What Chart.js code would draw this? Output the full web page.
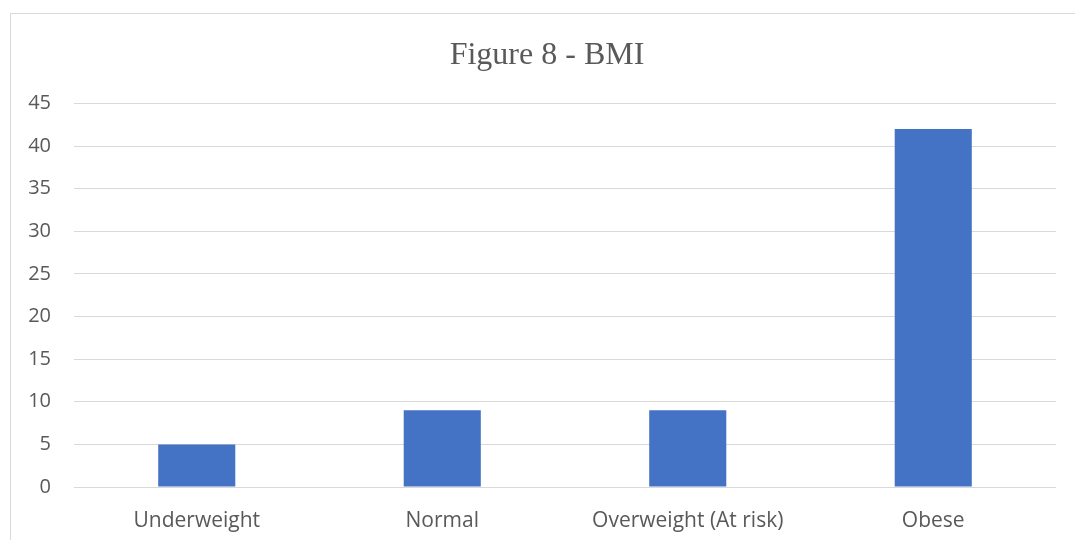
<!DOCTYPE html>
<html lang="en">
<head>
    <meta charset="UTF-8">
    <title>Figure 8 - BMI</title>
    <script src="https://cdn.jsdelivr.net/npm/chart.js"></script>
    <style>
        body {
            margin: 0;
            padding: 0;
            background-color: #ffffff;
            overflow: hidden;
        }

        .frame {
            position: absolute;
            left: 10px;
            top: 13px;
            width: 1100px;
            height: 560px;
            border: 1px solid #d9d9d9;
        }

        .box {
            position: absolute;
            left: 0;
            top: 0;
            width: 1072px;
            height: 526px;
        }
    </style>
</head>
<body>
    <div class="frame">
        <div class="box">
            <canvas id="bmiChart"></canvas>
        </div>
    </div>

    <script>
        var categories = ['Underweight', 'Normal', 'Overweight (At risk)', 'Obese'];
        var counts = [5, 9, 9, 42];
        var yTicks = [0, 5, 10, 15, 20, 25, 30, 35, 40, 45];

        var ctx = document.getElementById('bmiChart').getContext('2d');
        var bmiChart = new Chart(ctx, {
            type: 'bar',
            data: {
                labels: categories,
                datasets: [{
                    label: 'BMI',
                    data: counts,
                    backgroundColor: '#4472c4',
                    borderWidth: 0,
                    categoryPercentage: 1,
                    barPercentage: 0.314
                }]
            },
            options: {
                responsive: true,
                maintainAspectRatio: false,
                animation: false,
                layout: {
                    padding: { left: 0, right: 0, top: 22, bottom: 0 }
                },
                plugins: {
                    legend: { display: false },
                    tooltip: { enabled: false },
                    title: {
                        display: true,
                        text: 'Figure 8 - BMI',
                        color: '#595959',
                        font: { family: 'Liberation Serif', size: 32, weight: 'normal' },
                        padding: { top: 0, bottom: 29 }
                    }
                },
                scales: {
                    x: {
                        grid: { display: false },
                        border: { display: false },
                        afterFit: function (axis) {
                            axis.height = 53;
                        },
                        ticks: {
                            color: '#595959',
                            font: { family: 'Open Sans', size: 21 },
                            padding: 13,
                            maxRotation: 0
                        }
                    },
                    y: {
                        min: 0,
                        max: 45,
                        afterBuildTicks: function (axis) {
                            axis.ticks = yTicks.map(function (v) { return { value: v }; });
                        },
                        afterFit: function (axis) {
                            axis.width = 63;
                        },
                        grid: {
                            color: '#d9d9d9',
                            lineWidth: 1,
                            drawTicks: false
                        },
                        border: { display: false },
                        ticks: {
                            color: '#595959',
                            font: { family: 'Open Sans', size: 20 },
                            padding: 23
                        }
                    },
                    // empty right axis, only keeps space so the title sits centred like the original
                    y2: {
                        type: 'linear',
                        position: 'right',
                        grid: { display: false },
                        border: { display: false },
                        ticks: { display: false },
                        afterFit: function (axis) {
                            axis.width = 27;
                        }
                    }
                }
            }
        });
    </script>
</body>
</html>
